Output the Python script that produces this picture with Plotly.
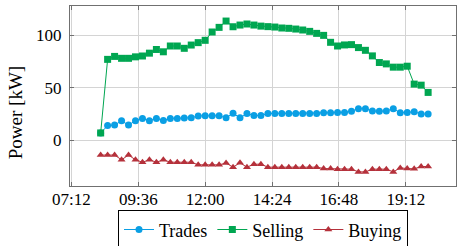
import plotly.graph_objects as go

times = ["08:15", "08:30", "08:45", "09:00", "09:15", "09:30", "09:45", "10:00",
         "10:15", "10:30", "10:45", "11:00", "11:15", "11:30", "11:45", "12:00",
         "12:15", "12:30", "12:45", "13:00", "13:15", "13:30", "13:45", "14:00",
         "14:15", "14:30", "14:45", "15:00", "15:15", "15:30", "15:45", "16:00",
         "16:15", "16:30", "16:45", "17:00", "17:15", "17:30", "17:45", "18:00",
         "18:15", "18:30", "18:45", "19:00", "19:15", "19:30", "19:45", "20:00"]

trades = [7, 14, 14.5, 18.5, 14.5, 18.7, 20.7, 18.7, 20.8, 18.9, 20.8, 20.8,
          21.2, 21.4, 23.2, 23.3, 23.3, 23.3, 21.4, 25.7, 21.4, 25.5, 23.5, 23.5,
          25.5, 25.5, 25.5, 25.5, 25.5, 25.5, 25.5, 25.5, 26.2, 26.2, 26.5, 26.5,
          27.7, 30.1, 30.1, 27.9, 27.7, 27.9, 30.0, 26.2, 26.5, 27.2, 25.0, 25.0]

selling = [7, 76.9, 79.7, 77.9, 77.9, 79.3, 80.1, 82.8, 86.3, 84.1, 89.6, 89.6,
           87.4, 90.5, 92.8, 95.0, 102.9, 107.3, 113.3, 107.9, 109.5, 110.5, 109.5, 108.5,
           108.0, 107.6, 106.7, 106.4, 105.7, 104.8, 103.5, 101.6, 99.7, 93.1, 89.6, 90.6,
           90.9, 88.1, 85.5, 80.2, 73.9, 72.6, 69.5, 69.5, 70.4, 53.4, 52.4, 45.5]

buying = [-14, -14, -14, -18.5, -14, -18.5, -20.8, -18.5, -20.8, -18.5, -20.8, -20.8,
          -20.8, -20.8, -23.3, -23.3, -23.3, -23.3, -21.6, -25.5, -21.4, -25.5, -22.7, -22.7,
          -25.5, -25.5, -25.5, -25.5, -25.5, -25.5, -25.5, -25.5, -26.8, -26.8, -27.4, -27.4,
          -27.4, -30.0, -30.0, -27.4, -27.4, -27.4, -30.0, -26.2, -26.8, -27.1, -24.9, -24.9]

x_ticks_start = "2000-01-01 07:12"
day = "2000-01-01 "
xs = [day + t for t in times]

FONT = "Liberation Serif, serif"
c_trades = "#0A9FE4"
c_selling = "#00A651"
c_buying = "#B5313B"

fig = go.Figure()
fig.add_trace(go.Scatter(x=xs, y=trades, name="Trades", mode="lines+markers",
                         line=dict(color=c_trades, width=1),
                         marker=dict(symbol="circle", size=7, color=c_trades)))
fig.add_trace(go.Scatter(x=xs, y=selling, name="Selling", mode="lines+markers",
                         line=dict(color=c_selling, width=1),
                         marker=dict(symbol="square", size=7, color=c_selling)))
fig.add_trace(go.Scatter(x=xs, y=buying, name="Buying", mode="lines+markers",
                         line=dict(color=c_buying, width=1),
                         marker=dict(symbol="triangle-up", size=7, color=c_buying)))

fig.update_layout(
    width=457, height=246,
    margin=dict(l=70, r=1, t=6, b=60, autoexpand=False),
    paper_bgcolor="white", plot_bgcolor="white",
    font=dict(family=FONT, size=17, color="black"),
    showlegend=True,
    legend=dict(orientation="h", x=0.5, xanchor="center", y=-0.135, yanchor="top",
                bordercolor="black", borderwidth=1,
                font=dict(family=FONT, size=18, color="black"),
                itemwidth=30, tracegroupgap=0),
)
fig.update_xaxes(type="date", range=["2000-01-01 07:09", "2000-01-01 21:00"],
                 tick0=x_ticks_start, dtick=8640000, tickformat="%H:%M",
                 tickfont=dict(family=FONT, size=17, color="black"),
                 showgrid=True, gridcolor="#d4d4d4", gridwidth=1,
                 showline=True, linecolor="#707070", linewidth=1.3, mirror="ticks",
                 ticks="inside", ticklen=4, tickcolor="#707070",
                 ticklabelstandoff=-3, zeroline=False, automargin=False)
fig.update_yaxes(range=[-43.4, 127.6], tickvals=[0, 50, 100],
                 tickfont=dict(family=FONT, size=17, color="black"),
                 showgrid=True, gridcolor="#d4d4d4", gridwidth=1,
                 showline=True, linecolor="#707070", linewidth=1.3, mirror="ticks",
                 ticks="inside", ticklen=4, tickcolor="#707070",
                 ticklabelstandoff=4, zeroline=False, automargin=False)
fig.add_annotation(text="Power [kW]", xref="paper", yref="paper",
                   x=-0.1425, y=0.41, textangle=-90, showarrow=False,
                   font=dict(family=FONT, size=19, color="black"),
                   xanchor="center", yanchor="middle")

fig.write_html("out.html", config={"displayModeBar": False},
               post_script="document.body.style.margin='0';document.body.style.padding='0';document.body.style.overflow='hidden';")
